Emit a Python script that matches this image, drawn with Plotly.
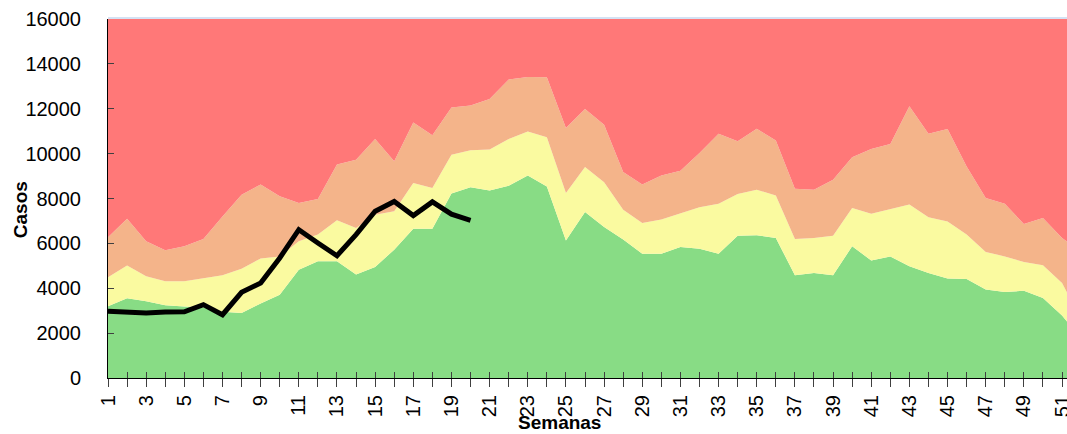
import plotly.graph_objects as go

# ---- data ----
weeks = list(range(1, 53))

# upper limit of the success zone (green)
q1 = [3200, 3550, 3420, 3240, 3190, 3150, 2950, 2900, 3320, 3710,
      4830, 5200, 5200, 4610, 4950, 5720, 6650, 6650, 8220, 8500,
      8360, 8570, 9030, 8540, 6130, 7400, 6730, 6170, 5540, 5540,
      5840, 5760, 5540, 6340, 6360, 6240, 4580, 4680, 4580, 5870,
      5240, 5420, 4980, 4680, 4430, 4410, 3940, 3830, 3890, 3570,
      2780, 1770]

# upper limit of the security zone (yellow)
median = [4490, 5010, 4530, 4310, 4310, 4460, 4580, 4870, 5330, 5420,
          6090, 6390, 7030, 6690, 7280, 7430, 8690, 8470, 9950, 10150,
          10180, 10650, 10990, 10730, 8250, 9400, 8720, 7500, 6910, 7060,
          7350, 7610, 7770, 8200, 8390, 8130, 6200, 6240, 6340, 7580,
          7320, 7530, 7730, 7160, 6980, 6390, 5620, 5420, 5170, 5020,
          4230, 2630]

# upper limit of the alert zone (orange)
q3 = [6270, 7100, 6090, 5690, 5870, 6200, 7200, 8170, 8620, 8100,
      7800, 7980, 9510, 9730, 10650, 9660, 11390, 10820, 12060, 12140,
      12430, 13300, 13420, 13400, 11140, 11990, 11290, 9180, 8620, 9030,
      9240, 10030, 10890, 10550, 11110, 10580, 8440, 8390, 8840, 9840,
      10210, 10430, 12110, 10890, 11100, 9430, 8020, 7770, 6860, 7130,
      6240, 5640]

# current-year cases (black line)
current_weeks = list(range(1, 21))
current = [2970, 2940, 2900, 2940, 2950, 3270, 2820, 3820, 4230, 5350,
           6610, 6020, 5450, 6390, 7430, 7870, 7240, 7850, 7300, 7030]

Y_MAX = 16000
Y_DTICK = 2000
tick_labels = [str(w) if w % 2 == 1 else "" for w in weeks]

GREEN = "#88DC85"
YELLOW = "#FAFAA0"
ORANGE = "#F4B48A"
RED = "#FF7878"

fig = go.Figure()
fig.add_trace(go.Scatter(x=weeks, y=q1, mode="lines", line=dict(width=0),
                         fill="tozeroy", fillcolor=GREEN, hoverinfo="skip"))
fig.add_trace(go.Scatter(x=weeks, y=median, mode="lines", line=dict(width=0),
                         fill="tonexty", fillcolor=YELLOW, hoverinfo="skip"))
fig.add_trace(go.Scatter(x=weeks, y=q3, mode="lines", line=dict(width=0),
                         fill="tonexty", fillcolor=ORANGE, hoverinfo="skip"))
fig.add_trace(go.Scatter(x=weeks, y=[Y_MAX] * len(weeks), mode="lines",
                         line=dict(width=0), fill="tonexty", fillcolor=RED,
                         hoverinfo="skip"))
fig.add_trace(go.Scatter(x=current_weeks, y=current, mode="lines",
                         line=dict(color="black", width=5)))
# dummy trace so the overlay axis (inner tick half) is drawn
fig.add_trace(go.Scatter(x=[None], y=[None], xaxis="x2", showlegend=False))

xrange = [1, 51.26]
fig.update_layout(
    width=1067, height=434,
    margin=dict(l=108, r=0, t=19, b=56, autoexpand=False),
    plot_bgcolor="white", paper_bgcolor="white",
    showlegend=False,
    font=dict(family="Arial, Liberation Sans, sans-serif", color="black"),
    xaxis=dict(range=xrange, tickmode="array", tickvals=weeks,
               ticktext=tick_labels, tickangle=-90, ticks="outside",
               ticklen=8, tickcolor="#404040", tickwidth=1,
               showline=True, linecolor="black", linewidth=1,
               showgrid=False, zeroline=False, automargin=False,
               ticklabeloverflow="allow",
               tickfont=dict(size=20)),
    xaxis2=dict(range=xrange, overlaying="x", anchor="y", side="bottom",
                tickmode="array", tickvals=weeks, ticks="inside",
                ticklen=6, tickcolor="#404040", tickwidth=1,
                showticklabels=False, showline=False, showgrid=False,
                zeroline=False, automargin=False),
    yaxis=dict(range=[0, Y_MAX], dtick=Y_DTICK, tickformat="d",
               ticks="inside", ticklen=6,
               tickcolor="#404040", showline=True, linecolor="black",
               linewidth=1, showgrid=False, zeroline=False, automargin=False,
               tickfont=dict(size=20), ticklabelstandoff=22),
    annotations=[
        dict(text="<b>Casos</b>", xref="paper", yref="paper",
             x=-0.0905, y=0.468, textangle=-90, showarrow=False,
             font=dict(size=19), xanchor="center", yanchor="middle"),
        dict(text="<b>Semanas</b>", xref="paper", yref="paper",
             x=0.4713, y=-0.124, showarrow=False, font=dict(size=19),
             xanchor="center", yanchor="middle"),
    ],
    shapes=[dict(type="line", xref="paper", yref="paper", x0=0, x1=1,
                 y0=1.003, y1=1.003, line=dict(color="#C6D9F0", width=1.5))],
)

fig.write_html(
    "out.html",
    config={"displayModeBar": False},
    post_script="document.body.style.margin='0';"
                "document.body.style.overflow='hidden';",
)
